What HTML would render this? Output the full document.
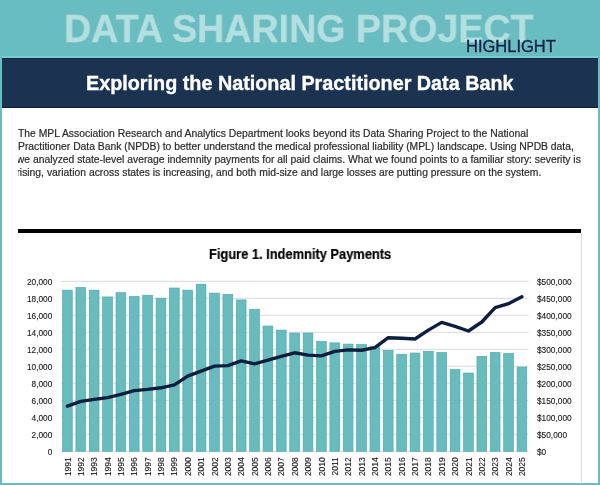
<!DOCTYPE html>
<html><head><meta charset="utf-8">
<style>
html,body{margin:0;padding:0;}
.abs,svg{will-change:transform;}
body{width:600px;height:485px;position:relative;overflow:hidden;background:#69bcc0;font-family:"Liberation Sans",sans-serif;}
.abs{position:absolute;}
#big{left:63.6px;top:5.5px;font-weight:bold;font-size:39.2px;line-height:46px;transform:scaleX(0.96);transform-origin:0 0;color:#b4dfe1;white-space:nowrap;letter-spacing:0px;-webkit-text-stroke:0.3px #b4dfe1;}
#hl{left:466px;top:37.4px;font-size:16.5px;text-shadow:0 0 1px #9adbdd,0 0 2px #8ed6d8;-webkit-text-stroke:0.45px #0f2446;line-height:18px;color:#0f2446;white-space:nowrap;}
#tline{left:2px;top:55.6px;width:596px;height:2px;background:#79cdd0;}
#banner{left:2px;top:57.6px;width:596px;height:50.1px;background:#1b3251;box-sizing:border-box;border-top:1px solid #142848;border-bottom:1.5px solid #0c1f40;}
#btitle{left:0;top:0;width:596px;text-align:center;}
#content{left:2px;top:107.7px;width:596px;height:375.3px;background:#fff;}
#para{left:18px;top:121.3px;width:570px;height:70px;overflow:hidden;}
.pl{position:absolute;left:0;white-space:nowrap;font-size:10.35px;line-height:13px;color:#2a2a2a;-webkit-text-stroke:0.2px #2a2a2a;}
#bar{left:18.2px;top:229px;width:563.3px;height:3.8px;background:#000;}
#rline{left:580.8px;top:232.8px;width:1px;height:251px;background:#dcdcdc;}
#ftitle{left:208.7px;top:246.7px;font-weight:bold;font-size:13.8px;-webkit-text-stroke:0.2px #000;transform:scaleX(0.932);transform-origin:0 0;white-space:nowrap;line-height:16px;color:#000;}
svg{position:absolute;left:0;top:0;}
svg text{font-family:"Liberation Sans",sans-serif;font-size:8.3px;fill:#1a1a1a;stroke:#1a1a1a;stroke-width:0.12px;}
svg text.yr{font-size:8.5px;}
</style></head><body>
<div class="abs" id="big">DATA SHARING PROJECT</div>
<div class="abs" id="hl">HIGHLIGHT</div>
<div class="abs" id="tline"></div>
<div class="abs" id="banner"></div>
<div class="abs" id="content"></div>
<div class="abs" id="bannertext" style="left:85.6px;top:71px;font-weight:bold;font-size:19.8px;line-height:24px;color:#fff;white-space:nowrap;-webkit-text-stroke:0.35px #fff;">Exploring the National Practitioner Data Bank</div>
<div class="abs" id="para">
<div class="pl" style="top:6px;left:0px;word-spacing:0.04px">The MPL Association Research and Analytics Department looks beyond its Data Sharing Project to the National</div>
<div class="pl" style="top:19.1px;left:0px;word-spacing:-0.045px">Practitioner Data Bank (NPDB) to better understand the medical professional liability (MPL) landscape. Using NPDB data,</div>
<div class="pl" style="top:32.2px;left:-1.2px">we analyzed state-level average indemnity payments for all paid claims. What we found points to a familiar story: severity is</div>
<div class="pl" style="top:45.3px;left:-1.6px;word-spacing:0.03px">rising, variation across states is increasing, and both mid-size and large losses are putting pressure on the system.</div>
</div>
<div class="abs" id="bar"></div>
<div class="abs" id="rline"></div>
<div class="abs" id="ftitle">Figure 1. Indemnity Payments</div>
<svg width="600" height="485" viewBox="0 0 600 485">
<line x1="61" x2="528.6" y1="451.30" y2="451.30" stroke="#d9d9d9" stroke-width="1"/>
<line x1="61" x2="528.6" y1="434.30" y2="434.30" stroke="#d9d9d9" stroke-width="1"/>
<line x1="61" x2="528.6" y1="417.30" y2="417.30" stroke="#d9d9d9" stroke-width="1"/>
<line x1="61" x2="528.6" y1="400.30" y2="400.30" stroke="#d9d9d9" stroke-width="1"/>
<line x1="61" x2="528.6" y1="383.30" y2="383.30" stroke="#d9d9d9" stroke-width="1"/>
<line x1="61" x2="528.6" y1="366.30" y2="366.30" stroke="#d9d9d9" stroke-width="1"/>
<line x1="61" x2="528.6" y1="349.30" y2="349.30" stroke="#d9d9d9" stroke-width="1"/>
<line x1="61" x2="528.6" y1="332.30" y2="332.30" stroke="#d9d9d9" stroke-width="1"/>
<line x1="61" x2="528.6" y1="315.30" y2="315.30" stroke="#d9d9d9" stroke-width="1"/>
<line x1="61" x2="528.6" y1="298.30" y2="298.30" stroke="#d9d9d9" stroke-width="1"/>
<line x1="61" x2="528.6" y1="281.30" y2="281.30" stroke="#d9d9d9" stroke-width="1"/>
<rect x="62.55" y="290.15" width="9.7" height="161.15" fill="#68bcbe" stroke="#4faaad" stroke-width="0.7"/>
<rect x="75.92" y="287.60" width="9.7" height="163.70" fill="#68bcbe" stroke="#4faaad" stroke-width="0.7"/>
<rect x="89.29" y="290.15" width="9.7" height="161.15" fill="#68bcbe" stroke="#4faaad" stroke-width="0.7"/>
<rect x="102.66" y="296.95" width="9.7" height="154.35" fill="#68bcbe" stroke="#4faaad" stroke-width="0.7"/>
<rect x="116.03" y="292.70" width="9.7" height="158.60" fill="#68bcbe" stroke="#4faaad" stroke-width="0.7"/>
<rect x="129.39" y="296.53" width="9.7" height="154.77" fill="#68bcbe" stroke="#4faaad" stroke-width="0.7"/>
<rect x="142.76" y="295.25" width="9.7" height="156.05" fill="#68bcbe" stroke="#4faaad" stroke-width="0.7"/>
<rect x="156.13" y="298.23" width="9.7" height="153.07" fill="#68bcbe" stroke="#4faaad" stroke-width="0.7"/>
<rect x="169.50" y="288.03" width="9.7" height="163.27" fill="#68bcbe" stroke="#4faaad" stroke-width="0.7"/>
<rect x="182.87" y="290.15" width="9.7" height="161.15" fill="#68bcbe" stroke="#4faaad" stroke-width="0.7"/>
<rect x="196.23" y="284.20" width="9.7" height="167.10" fill="#68bcbe" stroke="#4faaad" stroke-width="0.7"/>
<rect x="209.60" y="293.13" width="9.7" height="158.17" fill="#68bcbe" stroke="#4faaad" stroke-width="0.7"/>
<rect x="222.97" y="294.40" width="9.7" height="156.90" fill="#68bcbe" stroke="#4faaad" stroke-width="0.7"/>
<rect x="236.34" y="299.93" width="9.7" height="151.38" fill="#68bcbe" stroke="#4faaad" stroke-width="0.7"/>
<rect x="249.71" y="309.28" width="9.7" height="142.02" fill="#68bcbe" stroke="#4faaad" stroke-width="0.7"/>
<rect x="263.07" y="326.02" width="9.7" height="125.28" fill="#68bcbe" stroke="#4faaad" stroke-width="0.7"/>
<rect x="276.44" y="330.10" width="9.7" height="121.20" fill="#68bcbe" stroke="#4faaad" stroke-width="0.7"/>
<rect x="289.81" y="333.08" width="9.7" height="118.22" fill="#68bcbe" stroke="#4faaad" stroke-width="0.7"/>
<rect x="303.18" y="333.08" width="9.7" height="118.22" fill="#68bcbe" stroke="#4faaad" stroke-width="0.7"/>
<rect x="316.55" y="341.58" width="9.7" height="109.72" fill="#68bcbe" stroke="#4faaad" stroke-width="0.7"/>
<rect x="329.91" y="342.85" width="9.7" height="108.45" fill="#68bcbe" stroke="#4faaad" stroke-width="0.7"/>
<rect x="343.28" y="344.12" width="9.7" height="107.18" fill="#68bcbe" stroke="#4faaad" stroke-width="0.7"/>
<rect x="356.65" y="344.55" width="9.7" height="106.75" fill="#68bcbe" stroke="#4faaad" stroke-width="0.7"/>
<rect x="370.02" y="346.68" width="9.7" height="104.62" fill="#68bcbe" stroke="#4faaad" stroke-width="0.7"/>
<rect x="383.39" y="350.50" width="9.7" height="100.80" fill="#68bcbe" stroke="#4faaad" stroke-width="0.7"/>
<rect x="396.75" y="354.33" width="9.7" height="96.97" fill="#68bcbe" stroke="#4faaad" stroke-width="0.7"/>
<rect x="410.12" y="353.05" width="9.7" height="98.25" fill="#68bcbe" stroke="#4faaad" stroke-width="0.7"/>
<rect x="423.49" y="351.35" width="9.7" height="99.95" fill="#68bcbe" stroke="#4faaad" stroke-width="0.7"/>
<rect x="436.86" y="352.62" width="9.7" height="98.68" fill="#68bcbe" stroke="#4faaad" stroke-width="0.7"/>
<rect x="450.23" y="369.62" width="9.7" height="81.68" fill="#68bcbe" stroke="#4faaad" stroke-width="0.7"/>
<rect x="463.59" y="373.03" width="9.7" height="78.27" fill="#68bcbe" stroke="#4faaad" stroke-width="0.7"/>
<rect x="476.96" y="356.45" width="9.7" height="94.85" fill="#68bcbe" stroke="#4faaad" stroke-width="0.7"/>
<rect x="490.33" y="352.62" width="9.7" height="98.68" fill="#68bcbe" stroke="#4faaad" stroke-width="0.7"/>
<rect x="503.70" y="353.48" width="9.7" height="97.82" fill="#68bcbe" stroke="#4faaad" stroke-width="0.7"/>
<rect x="517.07" y="367.08" width="9.7" height="84.22" fill="#68bcbe" stroke="#4faaad" stroke-width="0.7"/>
<polyline points="67.40,406.10 80.77,401.40 94.14,399.40 107.51,397.60 120.88,394.41 134.24,390.60 147.61,389.41 160.98,387.81 174.35,384.92 187.72,376.11 201.08,371.12 214.45,366.10 227.82,365.61 241.19,360.92 254.56,363.91 267.92,360.10 281.29,356.39 294.66,352.79 308.03,355.10 321.40,355.90 334.76,351.40 348.13,349.91 361.50,350.21 374.87,347.70 388.24,337.70 401.60,338.21 414.97,338.99 428.34,330.12 441.71,322.40 455.08,326.38 468.44,331.00 481.81,321.99 495.18,307.71 508.55,303.70 521.92,296.70" fill="none" stroke="#0e1f3d" stroke-width="3.4" stroke-linejoin="round" stroke-linecap="round"/>
<text x="52.3" y="454.60" text-anchor="end">0</text>
<text x="52.3" y="437.60" text-anchor="end">2,000</text>
<text x="52.3" y="420.60" text-anchor="end">4,000</text>
<text x="52.3" y="403.60" text-anchor="end">6,000</text>
<text x="52.3" y="386.60" text-anchor="end">8,000</text>
<text x="52.3" y="369.60" text-anchor="end">10,000</text>
<text x="52.3" y="352.60" text-anchor="end">12,000</text>
<text x="52.3" y="335.60" text-anchor="end">14,000</text>
<text x="52.3" y="318.60" text-anchor="end">16,000</text>
<text x="52.3" y="301.60" text-anchor="end">18,000</text>
<text x="52.3" y="284.60" text-anchor="end">20,000</text>
<text x="537" y="454.60">$0</text>
<text x="537" y="437.60">$50,000</text>
<text x="537" y="420.60">$100,000</text>
<text x="537" y="403.60">$150,000</text>
<text x="537" y="386.60">$200,000</text>
<text x="537" y="369.60">$250,000</text>
<text x="537" y="352.60">$300,000</text>
<text x="537" y="335.60">$350,000</text>
<text x="537" y="318.60">$400,000</text>
<text x="537" y="301.60">$450,000</text>
<text x="537" y="284.60">$500,000</text>
<text class="yr" transform="translate(70.50,457.2) rotate(-90)" text-anchor="end">1991</text>
<text class="yr" transform="translate(83.87,457.2) rotate(-90)" text-anchor="end">1992</text>
<text class="yr" transform="translate(97.24,457.2) rotate(-90)" text-anchor="end">1993</text>
<text class="yr" transform="translate(110.61,457.2) rotate(-90)" text-anchor="end">1994</text>
<text class="yr" transform="translate(123.98,457.2) rotate(-90)" text-anchor="end">1995</text>
<text class="yr" transform="translate(137.34,457.2) rotate(-90)" text-anchor="end">1996</text>
<text class="yr" transform="translate(150.71,457.2) rotate(-90)" text-anchor="end">1997</text>
<text class="yr" transform="translate(164.08,457.2) rotate(-90)" text-anchor="end">1998</text>
<text class="yr" transform="translate(177.45,457.2) rotate(-90)" text-anchor="end">1999</text>
<text class="yr" transform="translate(190.82,457.2) rotate(-90)" text-anchor="end">2000</text>
<text class="yr" transform="translate(204.18,457.2) rotate(-90)" text-anchor="end">2001</text>
<text class="yr" transform="translate(217.55,457.2) rotate(-90)" text-anchor="end">2002</text>
<text class="yr" transform="translate(230.92,457.2) rotate(-90)" text-anchor="end">2003</text>
<text class="yr" transform="translate(244.29,457.2) rotate(-90)" text-anchor="end">2004</text>
<text class="yr" transform="translate(257.66,457.2) rotate(-90)" text-anchor="end">2005</text>
<text class="yr" transform="translate(271.02,457.2) rotate(-90)" text-anchor="end">2006</text>
<text class="yr" transform="translate(284.39,457.2) rotate(-90)" text-anchor="end">2007</text>
<text class="yr" transform="translate(297.76,457.2) rotate(-90)" text-anchor="end">2008</text>
<text class="yr" transform="translate(311.13,457.2) rotate(-90)" text-anchor="end">2009</text>
<text class="yr" transform="translate(324.50,457.2) rotate(-90)" text-anchor="end">2010</text>
<text class="yr" transform="translate(337.86,457.2) rotate(-90)" text-anchor="end">2011</text>
<text class="yr" transform="translate(351.23,457.2) rotate(-90)" text-anchor="end">2012</text>
<text class="yr" transform="translate(364.60,457.2) rotate(-90)" text-anchor="end">2013</text>
<text class="yr" transform="translate(377.97,457.2) rotate(-90)" text-anchor="end">2014</text>
<text class="yr" transform="translate(391.34,457.2) rotate(-90)" text-anchor="end">2015</text>
<text class="yr" transform="translate(404.70,457.2) rotate(-90)" text-anchor="end">2016</text>
<text class="yr" transform="translate(418.07,457.2) rotate(-90)" text-anchor="end">2017</text>
<text class="yr" transform="translate(431.44,457.2) rotate(-90)" text-anchor="end">2018</text>
<text class="yr" transform="translate(444.81,457.2) rotate(-90)" text-anchor="end">2019</text>
<text class="yr" transform="translate(458.18,457.2) rotate(-90)" text-anchor="end">2020</text>
<text class="yr" transform="translate(471.54,457.2) rotate(-90)" text-anchor="end">2021</text>
<text class="yr" transform="translate(484.91,457.2) rotate(-90)" text-anchor="end">2022</text>
<text class="yr" transform="translate(498.28,457.2) rotate(-90)" text-anchor="end">2023</text>
<text class="yr" transform="translate(511.65,457.2) rotate(-90)" text-anchor="end">2024</text>
<text class="yr" transform="translate(525.02,457.2) rotate(-90)" text-anchor="end">2025</text>
</svg>
</body></html>
